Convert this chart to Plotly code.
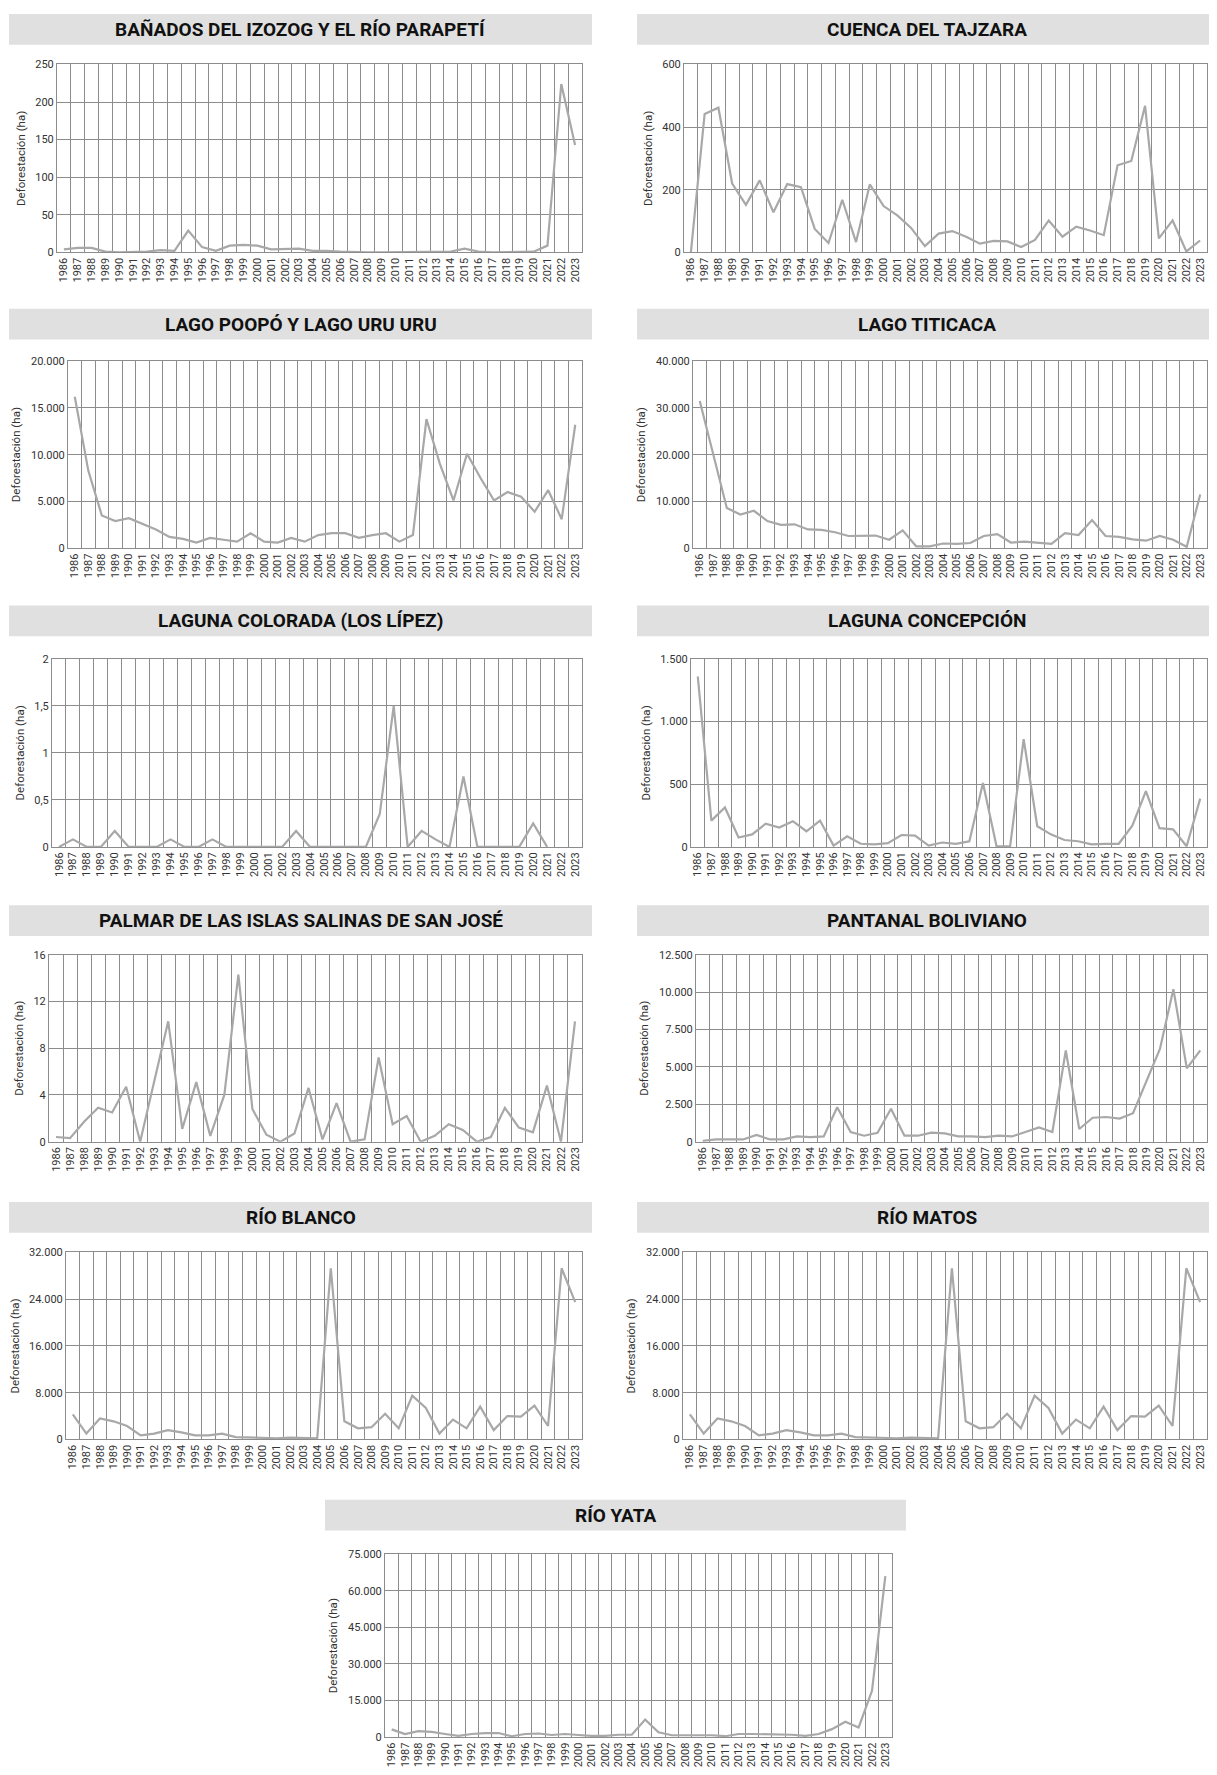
import plotly.graph_objects as go

years = [str(y) for y in range(1986, 2024)]

banados = [4, 6, 6, 1, 0, 0, 1, 3, 2, 29, 7, 2, 9, 10, 9, 4, 5, 5, 2, 2, 1, 0, 0, 0, 0, 0,
           0, 0, 1, 5, 1, 0, 0, 0, 1, 9, 224, 143]
tajzara = [0, 442, 462, 220, 152, 230, 128, 218, 208, 75, 30, 168, 33, 217, 148, 118, 78, 20,
           60, 68, 50, 28, 37, 35, 17, 40, 102, 50, 82, 70, 55, 278, 292, 468, 45, 102, 3, 38]
poopo = [16200, 8300, 3500, 2900, 3200, 2600, 2000, 1200, 1000, 600, 1100, 900, 700, 1600,
         700, 600, 1100, 700, 1400, 1600, 1600, 1100, 1400, 1600, 700, 1400, 13800, 9000,
         5100, 10100, 7500, 5100, 6000, 5500, 3900, 6200, 3100, 13200]
titicaca = [31500, 20000, 8600, 7200, 8000, 5800, 5000, 5100, 4000, 3900, 3400, 2600, 2700,
            2700, 1800, 3800, 400, 400, 1000, 900, 1100, 2600, 3000, 1200, 1400, 1100, 900,
            3200, 2800, 6000, 2600, 2400, 1900, 1600, 2600, 1800, 300, 11500]
colorada = [0, 0.08, 0, 0, 0.17, 0, 0, 0, 0.08, 0, 0, 0.08, 0, 0, 0, 0, 0, 0.17, 0, 0, 0, 0,
            0, 0.35, 1.5, 0, 0.17, 0.08, 0, 0.75, 0, 0, 0, 0, 0.25, 0, None, None]
concepcion = [1360, 210, 315, 75, 100, 185, 155, 205, 125, 210, 10, 85, 25, 20, 30, 95, 90,
              10, 35, 25, 45, 510, 5, 5, 860, 165, 100, 55, 45, 20, 25, 25, 170, 445, 150,
              140, 5, 385]
palmar = [0.4, 0.3, 1.7, 2.9, 2.5, 4.7, 0, 5.2, 10.3, 1.1, 5.1, 0.5, 4.0, 14.3, 2.8, 0.6, 0,
          0.7, 4.6, 0.2, 3.3, 0, 0.2, 7.2, 1.5, 2.2, 0, 0.5, 1.5, 1.0, 0, 0.4, 2.9, 1.2, 0.8,
          4.8, 0, 10.3]
pantanal = [50, 150, 150, 150, 450, 150, 150, 350, 300, 350, 2300, 650, 400, 600, 2200, 400,
            400, 600, 550, 350, 350, 300, 400, 350, 650, 950, 650, 6100, 850, 1600, 1650,
            1550, 1900, 4100, 6200, 10200, 4900, 6100]
rio_blanco = [4300, 1000, 3600, 3100, 2300, 700, 1000, 1600, 1200, 700, 700, 1000, 400, 300,
              300, 200, 300, 200, 200, 29300, 3100, 1900, 2100, 4400, 1900, 7500, 5400, 1000,
              3400, 1900, 5600, 1600, 4000, 3900, 5800, 2300, 29300, 23500]
rio_matos = [4300, 1000, 3600, 3100, 2300, 700, 1000, 1600, 1200, 700, 700, 1000, 400, 300,
             300, 200, 300, 200, 200, 29300, 3100, 1900, 2100, 4400, 1900, 7500, 5400, 1000,
             3400, 1900, 5600, 1600, 4000, 3900, 5800, 2300, 29300, 23500]
rio_yata = [3200, 1300, 2500, 2200, 1300, 500, 1300, 1700, 1700, 400, 1300, 1500, 900, 1300,
            900, 500, 500, 1000, 1000, 7200, 2000, 800, 800, 800, 800, 400, 1300, 1300, 1300,
            1300, 1000, 500, 1300, 3300, 6300, 4000, 19000, 66000]

titles = ["BAÑADOS DEL IZOZOG Y EL RÍO PARAPETÍ", "CUENCA DEL TAJZARA",
          "LAGO POOPÓ Y LAGO URU URU", "LAGO TITICACA",
          "LAGUNA COLORADA (LOS LÍPEZ)", "LAGUNA CONCEPCIÓN",
          "PALMAR DE LAS ISLAS SALINAS DE SAN JOSÉ", "PANTANAL BOLIVIANO",
          "RÍO BLANCO", "RÍO MATOS", "RÍO YATA"]
series = [banados, tajzara, poopo, titicaca, colorada, concepcion, palmar, pantanal,
          rio_blanco, rio_matos, rio_yata]
y_max = [250, 600, 20000, 40000, 2, 1500, 16, 12500, 32000, 32000, 75000]
y_step = [50, 200, 5000, 10000, 0.5, 500, 4, 2500, 8000, 8000, 15000]

# page body has an 8px margin, so the figure is made 16px smaller than the window
PAD = 8
W, H = 1217 - 2 * PAD, 1775 - 2 * PAD
# row pixel layout in page coords: (bar_y0, bar_y1, plot_y0, plot_y1)
rows = [(8, 39, 59, 249), (306, 337, 359, 548), (606, 637, 660, 850),
        (909, 940, 959, 1148), (1209, 1240, 1260, 1449), (1510, 1541, 1565, 1750)]
plot_left = [57, 684, 68, 693, 52, 691, 49, 696, 66, 683, 385]
boxes = []
for i in range(11):
    r = rows[i // 2]
    if i == 10:
        bx0, bx1, px1 = 325, 906, 892
    elif i % 2 == 0:
        bx0, bx1, px1 = 9, 592, 582
    else:
        bx0, bx1, px1 = 637, 1217, 1207
    boxes.append([v - PAD for v in (bx0, bx1, r[0], r[1], plot_left[i], px1, r[2], r[3])])

TITLE_FONT = "Roboto, Liberation Sans, sans-serif"
TICK_FONT = "Roboto, Liberation Sans, sans-serif"
GRID = "#8c8c8c"

fig = go.Figure()
shapes = []
annotations = []
for i in range(11):
    bx0, bx1, by0, by1, px0, px1, py0, py1 = boxes[i]
    n = "" if i == 0 else str(i + 1)
    fig.add_trace(go.Scatter(
        x=years, y=series[i], mode="lines",
        line=dict(color="#a8a8a8", width=2.2),
        xaxis="x" + n, yaxis="y" + n, showlegend=False,
        hoverinfo="x+y"
    ))
    fig.layout["xaxis" + n] = dict(
        domain=[max(px0 / W, 0), min(px1 / W, 1)], anchor="y" + n, type="category",
        tickson="boundaries", range=[-0.5, len(years) - 0.5],
        showgrid=True, gridcolor=GRID, gridwidth=1,
        showline=True, mirror=True, linecolor=GRID, linewidth=1,
        tickangle=-90, tickfont=dict(family=TICK_FONT, size=11, color="#333333"),
        ticks="", ticklen=0
    )
    fig.layout["yaxis" + n] = dict(
        domain=[max(1 - py1 / H, 0), min(1 - py0 / H, 1)], anchor="x" + n,
        range=[0, y_max[i]], dtick=y_step[i], tick0=0,
        showgrid=True, gridcolor=GRID, gridwidth=1,
        showline=True, mirror=True, linecolor=GRID, linewidth=1,
        zeroline=False, separatethousands=True, exponentformat="none",
        tickfont=dict(family=TICK_FONT, size=11, color="#333333"),
        title=dict(text="Deforestación (ha)", standoff=7,
                   font=dict(family=TICK_FONT, size=11.5, color="#333333"))
    )
    shapes.append(dict(type="rect", xref="paper", yref="paper",
                       x0=max(bx0 / W, 0), x1=min(bx1 / W, 1),
                       y0=1 - by1 / H, y1=min(1 - by0 / H, 1),
                       fillcolor="#e0e0e0", line=dict(width=0), layer="below"))
    annotations.append(dict(text="<b>" + titles[i] + "</b>", xref="paper", yref="paper",
                            x=(bx0 + bx1) / 2 / W, y=1 - (by0 + by1) / 2 / H,
                            xanchor="center", yanchor="middle", showarrow=False,
                            font=dict(family=TITLE_FONT, size=19, color="#111111")))

fig.update_layout(
    width=W, height=H,
    margin=dict(l=0, r=0, t=0, b=0),
    paper_bgcolor="white", plot_bgcolor="white",
    separators=",.",
    shapes=shapes, annotations=annotations,
)

fig.write_html("out.html")
